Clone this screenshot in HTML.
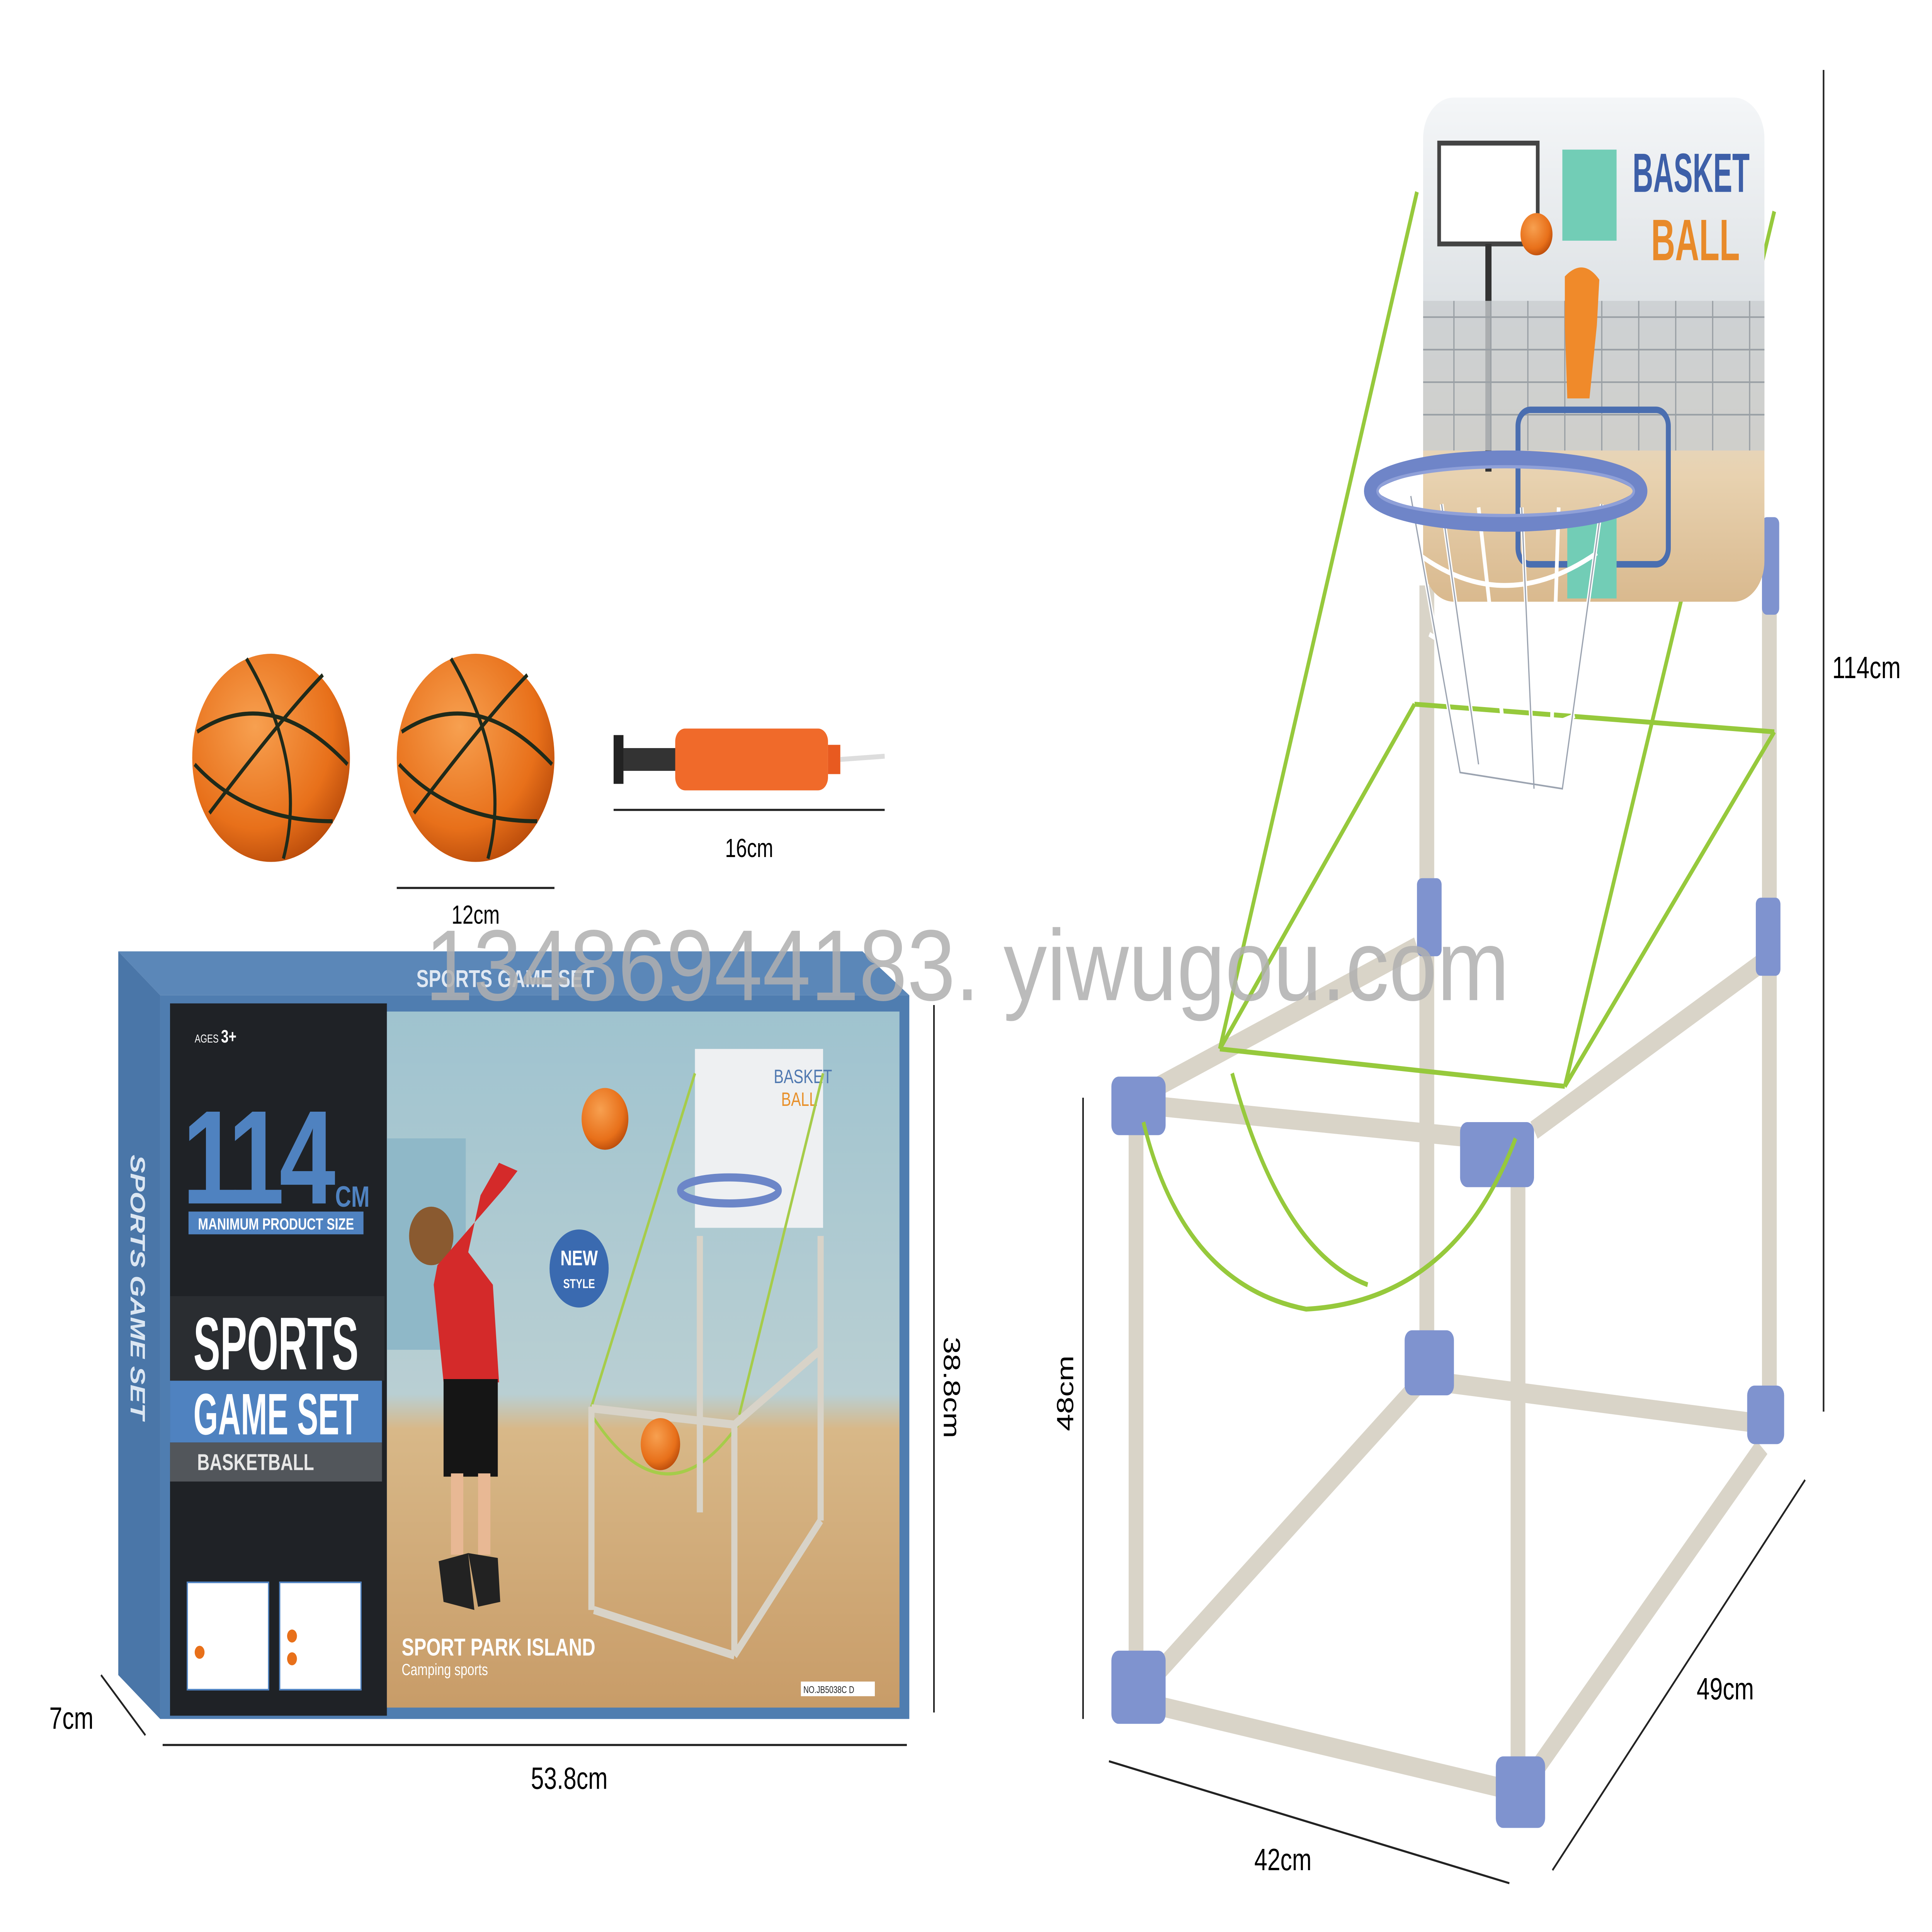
<!DOCTYPE html>
<html><head><meta charset="utf-8"><style>
html,body{margin:0;padding:0;background:#fff;width:100%;height:100%;overflow:hidden;}
svg{display:block;width:100vw;height:100vh;}
text{font-family:"Liberation Sans",sans-serif;}
</style></head><body>
<svg viewBox="0 0 1568 1188" preserveAspectRatio="none" xmlns="http://www.w3.org/2000/svg">
<defs>
<radialGradient id="ball" cx="40%" cy="35%" r="70%"><stop offset="0" stop-color="#f7a050"/><stop offset="0.7" stop-color="#e8701a"/><stop offset="1" stop-color="#b84a0a"/></radialGradient>
<linearGradient id="wood" x1="0" y1="0" x2="0" y2="1"><stop offset="0" stop-color="#9fc3cf"/><stop offset="0.55" stop-color="#b9cfd3"/><stop offset="0.6" stop-color="#d8b888"/><stop offset="1" stop-color="#c89c68"/></linearGradient>
<linearGradient id="bb" x1="0" y1="0" x2="0" y2="1"><stop offset="0" stop-color="#f4f6f8"/><stop offset="0.4" stop-color="#dfe3e6"/><stop offset="0.75" stop-color="#e8d2b0"/><stop offset="1" stop-color="#d9b98e"/></linearGradient>
</defs>
<rect width="1568" height="1188" fill="#fff"/>

<g>
<circle cx="220" cy="466" r="64" fill="url(#ball)"/>
<path d="M160 450 Q220 420 282 470 M170 500 Q230 440 262 415 M200 405 Q250 470 230 528 M158 470 Q200 505 270 505" stroke="#1f2a1a" stroke-width="2.5" fill="none"/>
<circle cx="386" cy="466" r="64" fill="url(#ball)"/>
<path d="M326 450 Q386 420 448 470 M336 500 Q396 440 428 415 M366 405 Q416 470 396 528 M324 470 Q366 505 436 505" stroke="#1f2a1a" stroke-width="2.5" fill="none"/>
</g>
<rect x="498" y="452" width="8" height="30" fill="#222"/>
<rect x="506" y="460" width="44" height="14" fill="#333"/>
<rect x="548" y="448" width="124" height="38" rx="8" fill="#f06a2a"/>
<rect x="672" y="458" width="10" height="18" fill="#e85a20"/>
<line x1="682" y1="467" x2="718" y2="465" stroke="#ddd" stroke-width="3"/>
<g stroke="#222" stroke-width="1.3" fill="#222">
<line x1="498" y1="498" x2="718" y2="498"/>
<line x1="322" y1="546" x2="450" y2="546"/>
<line x1="132" y1="1073" x2="736" y2="1073"/>
<line x1="82" y1="1030" x2="118" y2="1067"/>
<line x1="758" y1="618" x2="758" y2="1053"/>
<line x1="879" y1="675" x2="879" y2="1057"/>
<line x1="1480" y1="43" x2="1480" y2="868"/>
<line x1="900" y1="1083" x2="1225" y2="1158"/>
<line x1="1260" y1="1150" x2="1465" y2="910"/>
</g>
<text x="608" y="527" font-size="16" text-anchor="middle">16cm</text>
<text x="386" y="568" font-size="16" text-anchor="middle">12cm</text>
<text x="462" y="1100" font-size="19" text-anchor="middle">53.8cm</text>
<text x="40" y="1063" font-size="19">7cm</text>
<text x="766" y="822" font-size="19" transform="rotate(90 766 822)">38.8cm</text>
<text x="871" y="880" font-size="19" transform="rotate(-90 871 880)">48cm</text>
<text x="1487" y="417" font-size="19">114cm</text>
<text x="1018" y="1150" font-size="19">42cm</text>
<text x="1377" y="1045" font-size="19">49cm</text>

<polygon points="96,585 700,585 738,612 130,612" fill="#5b87b8"/>
<polygon points="96,585 130,612 130,1057 96,1030" fill="#4a76a8"/>
<rect x="130" y="612" width="608" height="445" fill="#4f7db0"/>
<rect x="138" y="617" width="176" height="438" fill="#1f2226"/>
<rect x="314" y="622" width="416" height="428" fill="url(#wood)"/>
<text x="410" y="607" font-size="15" font-weight="bold" fill="#e0e8f2" text-anchor="middle">SPORTS GAME SET</text>
<text x="106" y="710" font-size="17" font-weight="bold" font-style="italic" fill="#dbe6f2" transform="rotate(90 106 710)">SPORTS GAME SET</text>
<text x="158" y="641" font-size="7" fill="#fff">AGES <tspan font-size="11" font-weight="bold">3+</tspan></text>
<text x="148" y="740" font-size="82" font-weight="bold" fill="#4f82c0" letter-spacing="-4">114</text>
<text x="272" y="742" font-size="18" font-weight="bold" fill="#4f82c0">CM</text>
<rect x="153" y="745" width="142" height="14" fill="#4f82c0"/>
<text x="224" y="756" font-size="10" font-weight="bold" fill="#fff" text-anchor="middle">MANIMUM PRODUCT SIZE</text>
<rect x="138" y="797" width="174" height="52" fill="#2a2d31"/>
<text x="224" y="842" font-size="46" font-weight="bold" fill="#fff" text-anchor="middle" textLength="134" lengthAdjust="spacingAndGlyphs">SPORTS</text>
<rect x="138" y="849" width="172" height="38" fill="#4f82c0"/>
<text x="224" y="882" font-size="36" font-weight="bold" fill="#fff" text-anchor="middle" textLength="134" lengthAdjust="spacingAndGlyphs">GAME SET</text>
<rect x="138" y="887" width="172" height="24" fill="#52565b"/>
<text x="160" y="904" font-size="14" font-weight="bold" fill="#e8e8e8">BASKETBALL</text>
<rect x="152" y="973" width="66" height="66" fill="#fff" stroke="#4f82c0"/>
<rect x="227" y="973" width="66" height="66" fill="#fff" stroke="#4f82c0"/>
<circle cx="162" cy="1016" r="4" fill="#e8701a"/><circle cx="237" cy="1006" r="4" fill="#e8701a"/><circle cx="237" cy="1020" r="4" fill="#e8701a"/>
<rect x="314" y="700" width="64" height="130" fill="#8fb8c8"/>
<rect x="564" y="645" width="104" height="110" fill="#eef0f2"/>
<text x="628" y="666" font-size="12" fill="#4f78b0">BASKET</text>
<text x="634" y="680" font-size="12" fill="#e8902a">BALL</text>
<ellipse cx="592" cy="732" rx="40" ry="8" fill="none" stroke="#6c86c8" stroke-width="5"/>
<g stroke="#a6cc4a" stroke-width="2" fill="none">
<line x1="564" y1="660" x2="480" y2="865"/><line x1="668" y1="660" x2="600" y2="870"/>
<path d="M480 870 Q540 940 600 875"/>
</g>
<g stroke="#d8d3c8" stroke-width="5">
<line x1="480" y1="865" x2="480" y2="990"/><line x1="596" y1="875" x2="596" y2="1018"/>
<line x1="568" y1="760" x2="568" y2="930"/><line x1="666" y1="760" x2="666" y2="935"/>
<line x1="482" y1="990" x2="596" y2="1018"/><line x1="596" y1="1018" x2="666" y2="935"/>
<line x1="480" y1="866" x2="596" y2="876"/><line x1="596" y1="876" x2="666" y2="830"/>
</g>
<circle cx="536" cy="888" r="16" fill="url(#ball)"/>
<circle cx="491" cy="688" r="19" fill="url(#ball)"/>
<circle cx="470" cy="780" r="24" fill="#3a6ab0"/>
<text x="470" y="778" font-size="13" font-weight="bold" fill="#fff" text-anchor="middle">NEW</text>
<text x="470" y="792" font-size="8" font-weight="bold" fill="#fff" text-anchor="middle">STYLE</text>
<circle cx="350" cy="760" r="18" fill="#8a5a30"/>
<path d="M355 778 L410 730 L420 720 L405 715 L390 735 L380 770 L400 790 L405 850 L360 850 L352 790 Z" fill="#d42a2a"/>
<rect x="360" y="848" width="44" height="60" fill="#151515"/>
<rect x="366" y="906" width="10" height="50" fill="#e8b894"/><rect x="388" y="906" width="10" height="50" fill="#e8b894"/>
<path d="M356 960 L380 955 L385 990 L360 985 Z M380 955 L404 958 L406 985 L388 988 Z" fill="#222"/>
<text x="326" y="1018" font-size="15" font-weight="bold" fill="#fff">SPORT PARK ISLAND</text>
<text x="326" y="1030" font-size="10" fill="#fff">Camping sports</text>
<rect x="650" y="1034" width="60" height="9" fill="#fff"/>
<text x="652" y="1041" font-size="6" fill="#222">NO.JB5038C  D</text>

<g stroke="#d9d4c8" stroke-width="12" stroke-linecap="butt">
<line x1="1158" y1="360" x2="1158" y2="835"/>
<line x1="1436" y1="360" x2="1436" y2="860"/>
<line x1="922" y1="692" x2="922" y2="1030"/>
<line x1="1232" y1="715" x2="1232" y2="1090"/>
<line x1="936" y1="680" x2="1200" y2="700"/>
<line x1="940" y1="668" x2="1150" y2="582"/>
<line x1="1245" y1="695" x2="1430" y2="592"/>
<line x1="1170" y1="850" x2="1425" y2="875"/>
<line x1="932" y1="1035" x2="1155" y2="848"/>
<line x1="935" y1="1048" x2="1222" y2="1100"/>
<line x1="1245" y1="1090" x2="1430" y2="890"/>
</g>
<g fill="#7f93cf">
<rect x="902" y="662" width="44" height="36" rx="6"/>
<rect x="1185" y="690" width="60" height="40" rx="6"/>
<rect x="1140" y="818" width="40" height="40" rx="6"/>
<rect x="1418" y="852" width="30" height="36" rx="6"/>
<rect x="902" y="1015" width="44" height="45" rx="6"/>
<rect x="1214" y="1080" width="40" height="44" rx="6"/>
<rect x="1150" y="540" width="20" height="48" rx="4"/>
<rect x="1425" y="552" width="20" height="48" rx="4"/>
<rect x="1430" y="318" width="14" height="60" rx="4"/>
</g>
<g stroke="#96c93c" stroke-width="3" fill="none">
<line x1="1150" y1="118" x2="990" y2="645"/>
<line x1="1440" y1="130" x2="1270" y2="668"/>
<line x1="1148" y1="433" x2="990" y2="645"/>
<line x1="1148" y1="433" x2="1440" y2="450"/>
<line x1="1440" y1="450" x2="1270" y2="668"/>
<line x1="990" y1="645" x2="1270" y2="668"/>
<path d="M928 690 Q960 790 1060 805 Q1180 800 1230 700"/>
<path d="M1000 660 Q1040 770 1110 790"/>
</g>
<rect x="1155" y="60" width="277" height="310" rx="25" fill="url(#bb)"/>
<rect x="1168" y="88" width="80" height="62" fill="#fff" stroke="#444" stroke-width="3"/>
<line x1="1208" y1="150" x2="1208" y2="290" stroke="#333" stroke-width="5"/>
<rect x="1268" y="92" width="44" height="56" fill="#72cdb6"/>
<rect x="1155" y="185" width="277" height="92" fill="#c9cdd0" opacity="0.8"/>
<g stroke="#9aa0a5" stroke-width="1">
<path d="M1155 195 H1432 M1155 215 H1432 M1155 235 H1432 M1155 255 H1432 M1180 185 V277 M1210 185 V277 M1240 185 V277 M1270 185 V277 M1300 185 V277 M1330 185 V277 M1360 185 V277 M1390 185 V277 M1420 185 V277"/>
</g>
<text x="1325" y="118" font-size="34" font-weight="bold" fill="#3d5fa8" textLength="95" lengthAdjust="spacingAndGlyphs">BASKET</text>
<text x="1340" y="160" font-size="36" font-weight="bold" fill="#e88a2a" textLength="72" lengthAdjust="spacingAndGlyphs">BALL</text>
<circle cx="1247" cy="144" r="13" fill="url(#ball)"/>
<path d="M1270 170 Q1285 158 1298 172 L1296 200 L1290 245 L1272 245 L1270 200 Z" fill="#f08a2a"/>
<rect x="1232" y="252" width="122" height="95" rx="10" fill="none" stroke="#4a6eb0" stroke-width="4"/>
<rect x="1272" y="318" width="40" height="50" fill="#72cdb6"/>
<g stroke="#fff" stroke-width="3" fill="none">
<path d="M1145 305 L1185 475 L1268 485 L1300 310"/>
<path d="M1170 310 L1200 470 M1200 312 L1225 480 M1235 312 L1245 485 M1265 312 L1258 480"/>
<path d="M1150 340 Q1220 380 1296 340 M1160 390 Q1220 420 1290 390 M1170 440 Q1220 460 1278 440"/>
</g>
<g stroke="#9ba3b0" stroke-width="1" fill="none">
<path d="M1145 305 L1185 475 L1268 485 L1300 310 M1170 310 L1200 470 M1235 312 L1245 485"/>
</g>
<ellipse cx="1222" cy="302" rx="110" ry="20" fill="none" stroke="#6f85c8" stroke-width="10"/>
<ellipse cx="1222" cy="302" rx="104" ry="15" fill="none" stroke="#8fa0d8" stroke-width="2"/>

<text x="345" y="615" font-family="Liberation Serif,serif" font-size="62" fill="#b0b0b0" opacity="0.85" textLength="880" lengthAdjust="spacingAndGlyphs">13486944183. yiwugou.com</text>
</svg>
</body></html>
